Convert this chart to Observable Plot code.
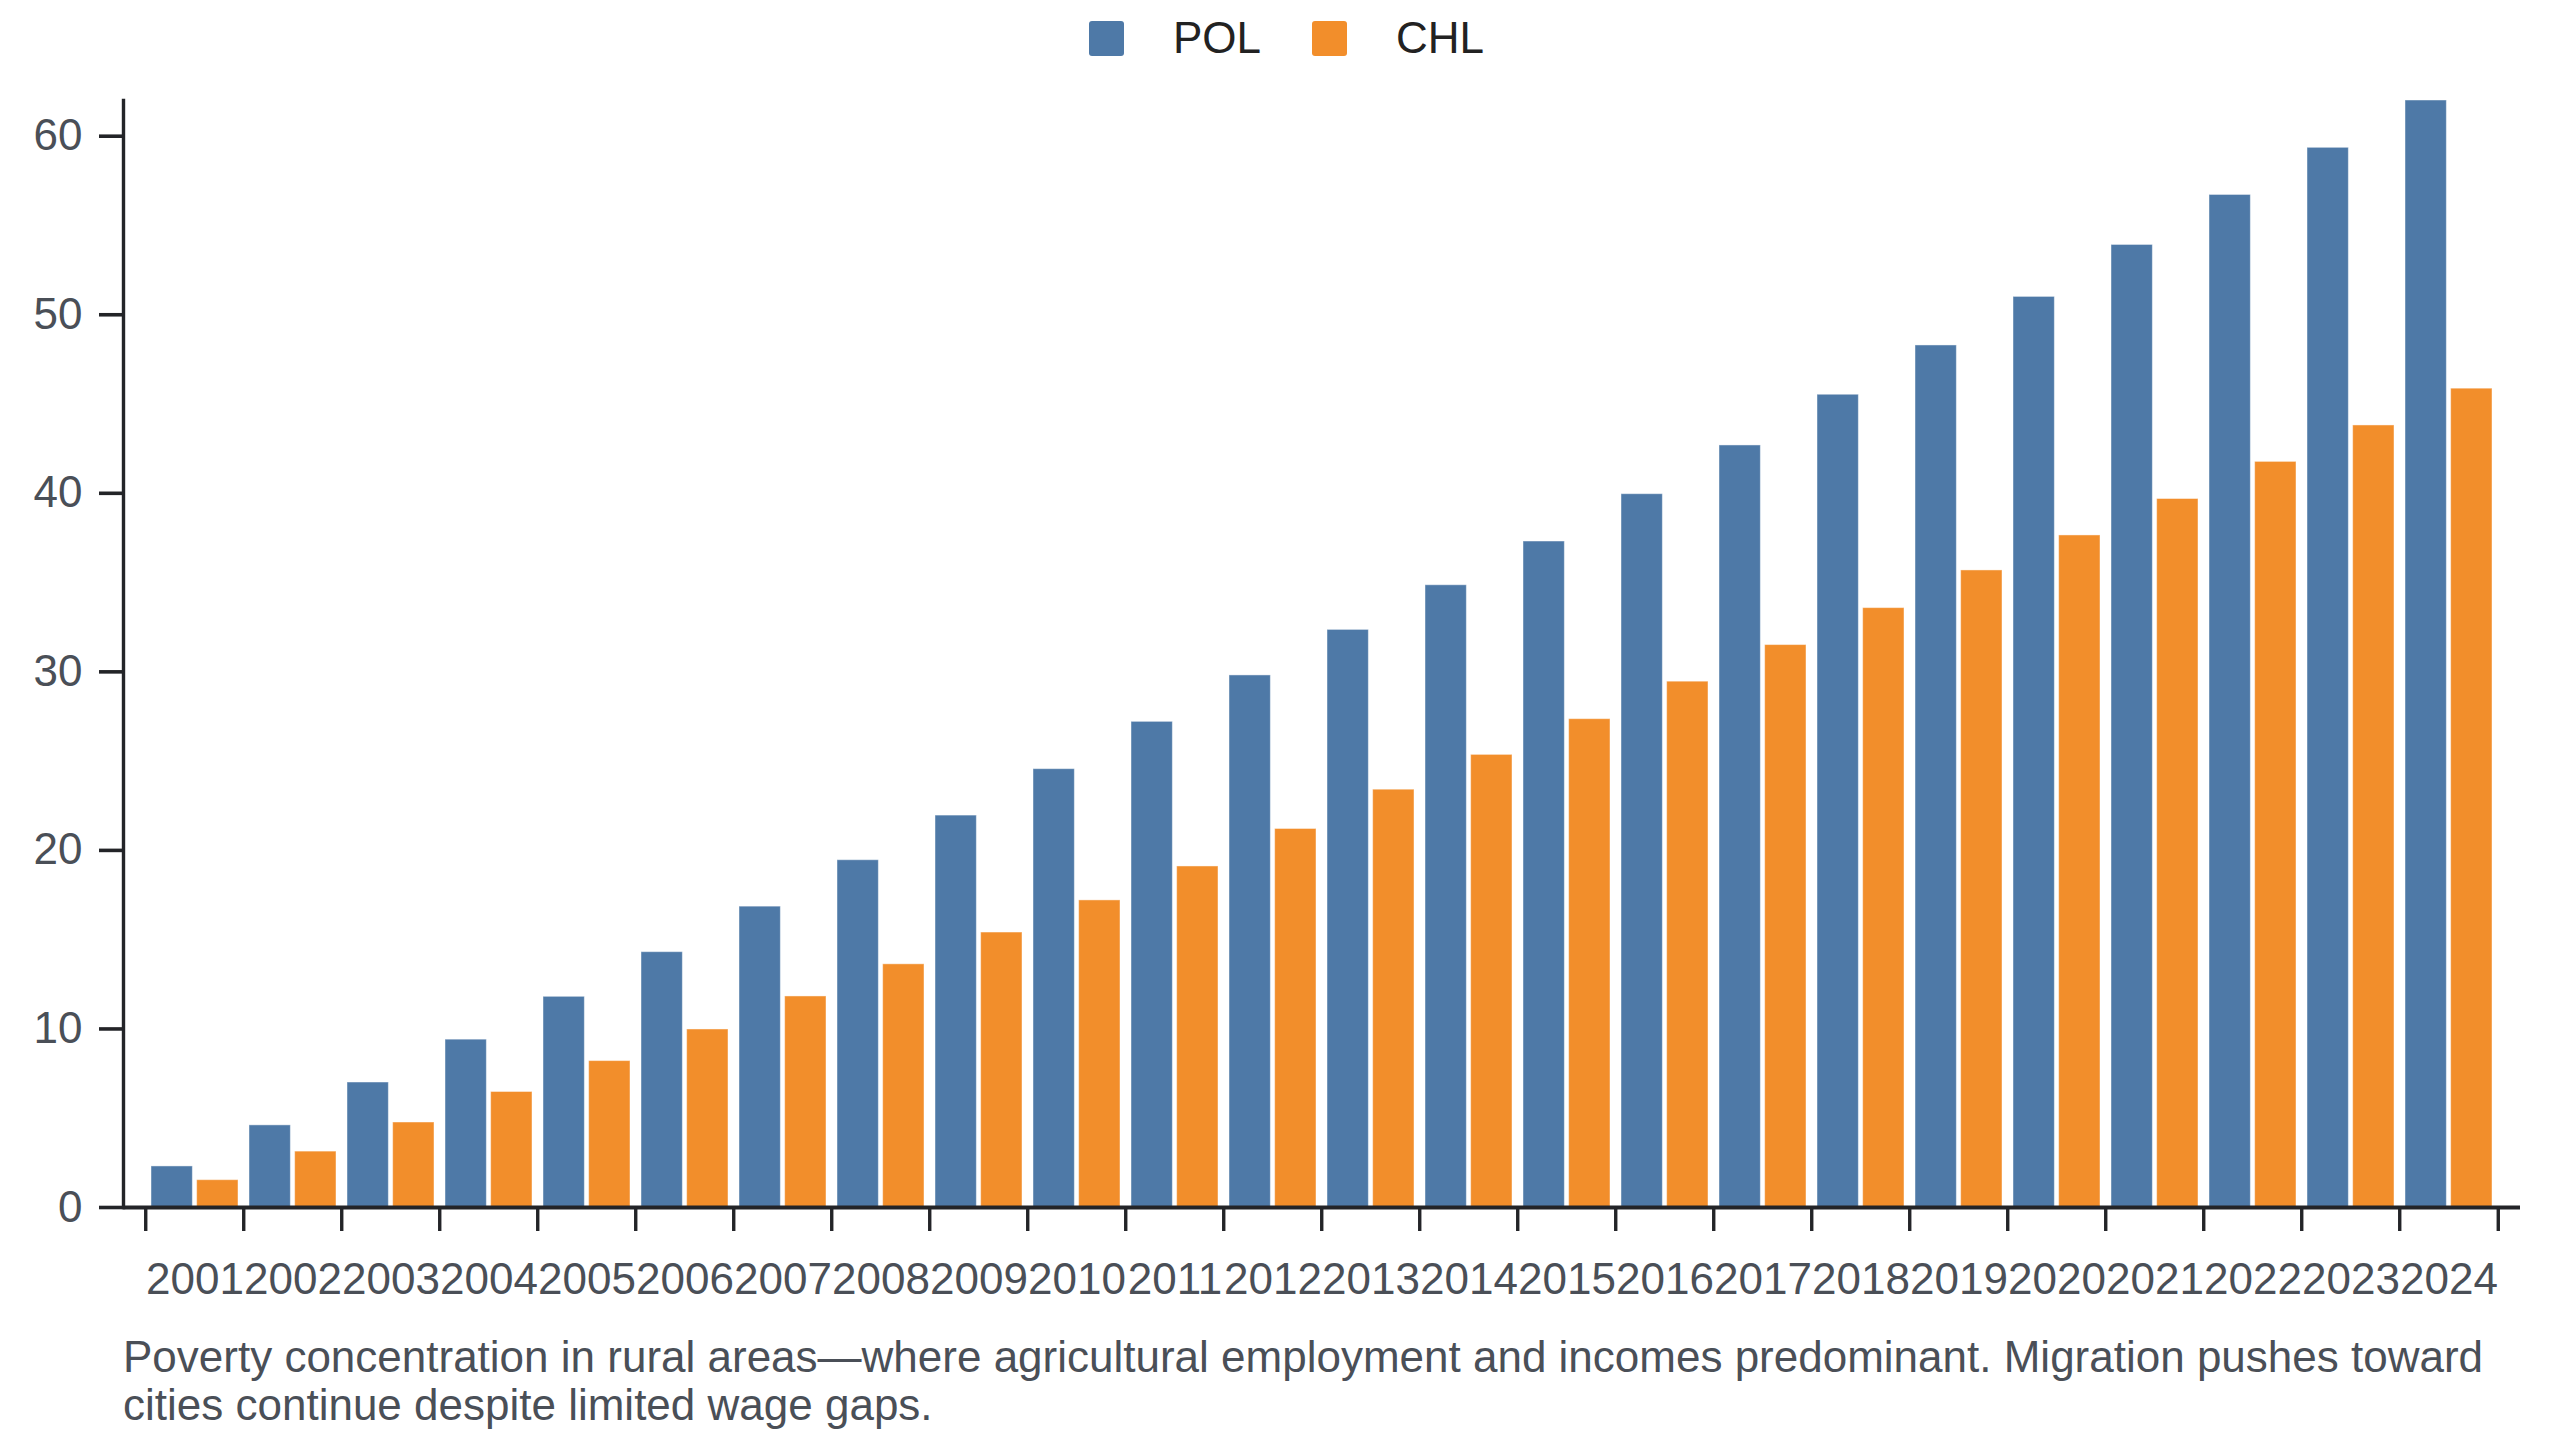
<!DOCTYPE html>
<html>
<head>
<meta charset="utf-8">
<script src="https://cdn.jsdelivr.net/npm/d3@7"></script>
<script src="https://cdn.jsdelivr.net/npm/@observablehq/plot@0.6"></script>
<style>
  html, body { margin: 0; padding: 0; background: #fff; }
  body { width: 2560px; font-family: "Liberation Sans", Arial, sans-serif; }
  #legend { height: 76px; display: flex; justify-content: center; align-items: center; padding-left: 13px; box-sizing: border-box; width: 2560px; }
  .item { display: flex; align-items: center; }
  .item + .item { margin-left: 51px; }
  .sw { width: 35px; height: 35px; border-radius: 3px; margin-right: 49px; }
  .lab { font-size: 44px; color: #222; }
  #caption { margin: 23px 0 0 123px; width: 2400px; font-size: 44px; line-height: 48px; color: #4a4f57; }
</style>
</head>
<body>
<div id="legend"></div>
<div id="chart"></div>
<div id="caption">Poverty concentration in rural areas—where agricultural employment and incomes predominant. Migration pushes toward cities continue despite limited wage gaps.</div>
<script>
const years = ["2001","2002","2003","2004","2005","2006","2007","2008","2009","2010","2011","2012","2013","2014","2015","2016","2017","2018","2019","2020","2021","2022","2023","2024"];
const pol = [2.3, 4.6, 7.0, 9.4, 11.8, 14.3, 16.85, 19.45, 21.95, 24.55, 27.2, 29.8, 32.35, 34.85, 37.3, 39.95, 42.68, 45.52, 48.28, 51.0, 53.91, 56.71, 59.35, 62.0];
const chl = [1.53, 3.13, 4.76, 6.47, 8.2, 9.97, 11.82, 13.62, 15.4, 17.2, 19.1, 21.2, 23.4, 25.35, 27.35, 29.45, 31.5, 33.57, 35.68, 37.64, 39.68, 41.76, 43.8, 45.86];
const seriesNames = ["POL", "CHL"];
const seriesColors = ["#4e79a7", "#f28e2b"];
const yTicks = [0, 10, 20, 30, 40, 50, 60];

const polData = years.map((y, i) => ({year: y, value: pol[i]}));
const chlData = years.map((y, i) => ({year: y, value: chl[i]}));

// legend
const legend = document.getElementById("legend");
seriesNames.forEach((s, i) => {
  const it = document.createElement("div");
  it.className = "item";
  it.innerHTML = `<div class="sw" style="background:${seriesColors[i]}"></div><div class="lab">${s}</div>`;
  legend.appendChild(it);
});

const W = 2560, H = 1234, mL = 123, mR = 40, mT = 24, mB = 103;
const pIn = 0.114, pOut = 0.2195;
const step = (W - mL - mR) / (years.length - pIn + 2 * pOut);
const band = step * (1 - pIn);
const gap = 4;
const sub = (band - gap) / 2;
const axisColor = "#232428";
const textColor = "#4a4f57";

const chart = Plot.plot({
  width: W, height: H,
  marginLeft: mL, marginRight: mR, marginTop: mT, marginBottom: mB,
  style: {fontFamily: "'Liberation Sans', Arial, sans-serif", fontSize: "44px", background: "#fff"},
  x: {type: "band", domain: years, paddingInner: pIn, paddingOuter: pOut, align: 0.5, axis: null},
  y: {domain: [0, 62], axis: null},
  marks: [
    Plot.barY(polData, {x: "year", y: "value", fill: seriesColors[0], stroke: "white", strokeWidth: 1, strokeOpacity: 0.45, insetRight: band - sub}),
    Plot.barY(chlData, {x: "year", y: "value", fill: seriesColors[1], stroke: "white", strokeWidth: 1, strokeOpacity: 0.45, insetLeft: band - sub}),
    Plot.ruleY([0], {stroke: axisColor, strokeWidth: 3.8}),
    Plot.frame({anchor: "left", stroke: axisColor, strokeWidth: 3.4}),
    Plot.axisY({ticks: yTicks, tickSize: 24, tickPadding: 17, stroke: axisColor, strokeWidth: 3.6, fill: textColor, label: null}),
    Plot.axisX({tickSize: 24, text: null, stroke: axisColor, strokeWidth: 3.4, dx: -step / 2, label: null}),
    Plot.axisX({ticks: [years[years.length - 1]], tickSize: 24, text: null, stroke: axisColor, strokeWidth: 3.4, dx: step / 2, label: null}),
    Plot.axisX({tickSize: 0, tickPadding: 55, fill: textColor, label: null})
  ]
});
document.getElementById("chart").appendChild(chart);
</script>
</body>
</html>
